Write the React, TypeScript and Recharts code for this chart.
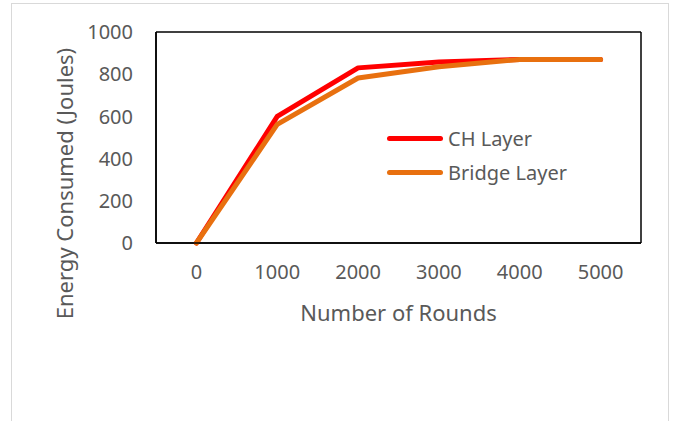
import React from "react";
import { LineChart, Line, XAxis, YAxis, Legend, CartesianGrid } from "recharts";

const rounds = ["0", "1000", "2000", "3000", "4000", "5000"];
const chLayer = [0, 600, 830, 858, 870, 870];
const bridgeLayer = [0, 562, 782, 835, 870, 870];
const yTicks = [0, 200, 400, 600, 800, 1000];
const seriesOrder = ["ch", "bridge"];

const data = rounds.map((r, i) => ({ round: r, ch: chLayer[i], bridge: bridgeLayer[i] }));

const FONT = "'Noto Sans', 'Open Sans', sans-serif";
const GREY = "#595959";

function LegendBox(props: any) {
  const items = [...(props.payload || [])].sort(
    (a: any, b: any) => seriesOrder.indexOf(a.dataKey) - seriesOrder.indexOf(b.dataKey)
  );
  return (
    <div style={{ fontFamily: FONT, fontSize: 20, color: GREY }}>
      {items.map((it: any) => (
        <div key={it.value} style={{ display: "flex", alignItems: "center", height: 34 }}>
          <div style={{ width: 56, height: 5, borderRadius: 3, background: it.color, marginRight: 5 }} />
          <span>{it.value}</span>
        </div>
      ))}
    </div>
  );
}

export default function App() {
  return (
    <div style={{ position: "absolute", left: 0, top: 0, width: 676, height: 421, overflow: "hidden", background: "#fff" }}>
      <div style={{ position: "absolute", left: 11, top: 3, width: 656, height: 440, border: "1px solid #d9d9d9" }} />
      <LineChart
        width={676}
        height={421}
        data={data}
        margin={{ top: 32, right: 35, bottom: 148, left: 0 }}
        style={{ position: "absolute", left: 0, top: 0, fontFamily: FONT }}
      >
        <CartesianGrid
          stroke="#000"
          strokeWidth={1.5}
          horizontalCoordinatesGenerator={(p: any) => [p.offset.top, p.offset.top + p.offset.height]}
          verticalCoordinatesGenerator={(p: any) => [p.offset.left, p.offset.left + p.offset.width]}
        />
        <XAxis
          dataKey="round"
          scale="band"
          height={30}
          tickSize={0}
          tickMargin={22}
          axisLine={{ stroke: "#000", strokeWidth: 1.5 }}
          tick={{ fill: GREY, fontSize: 20 }}
          label={{
            content: (p: any) => {
              const vb = p.viewBox;
              return (
                <text x={vb.x + vb.width / 2} y={vb.y + 78} textAnchor="middle" fill={GREY} fontSize={22} fontFamily={FONT}>
                  Number of Rounds
                </text>
              );
            },
          }}
        />
        <YAxis
          width={156}
          domain={[0, 1000]}
          ticks={yTicks}
          tickSize={0}
          tickMargin={23}
          axisLine={{ stroke: "#000", strokeWidth: 1.5 }}
          tick={{ fill: GREY, fontSize: 20 }}
          label={{
            content: (p: any) => {
              const vb = p.viewBox;
              const cx = 64;
              const cy = vb.y + vb.height / 2 + 46;
              return (
                <text x={cx} y={cy} transform={`rotate(-90 ${cx} ${cy})`} textAnchor="middle" dominantBaseline="central" fill={GREY} fontSize={22} fontFamily={FONT}>
                  Energy Consumed (Joules)
                </text>
              );
            },
          }}
        />
        <Legend
          layout="horizontal"
          verticalAlign="middle"
          align="center"
          content={<LegendBox />}
          wrapperStyle={{ left: 387, top: 121, width: 200 }}
        />
        <Line dataKey="ch" name="CH Layer" stroke="#FF0000" strokeWidth={5} strokeLinecap="round" strokeLinejoin="round" dot={false} isAnimationActive={false} />
        <Line dataKey="bridge" name="Bridge Layer" stroke="#E8700F" strokeWidth={5} strokeLinecap="round" strokeLinejoin="round" dot={false} isAnimationActive={false} />
      </LineChart>
    </div>
  );
}
